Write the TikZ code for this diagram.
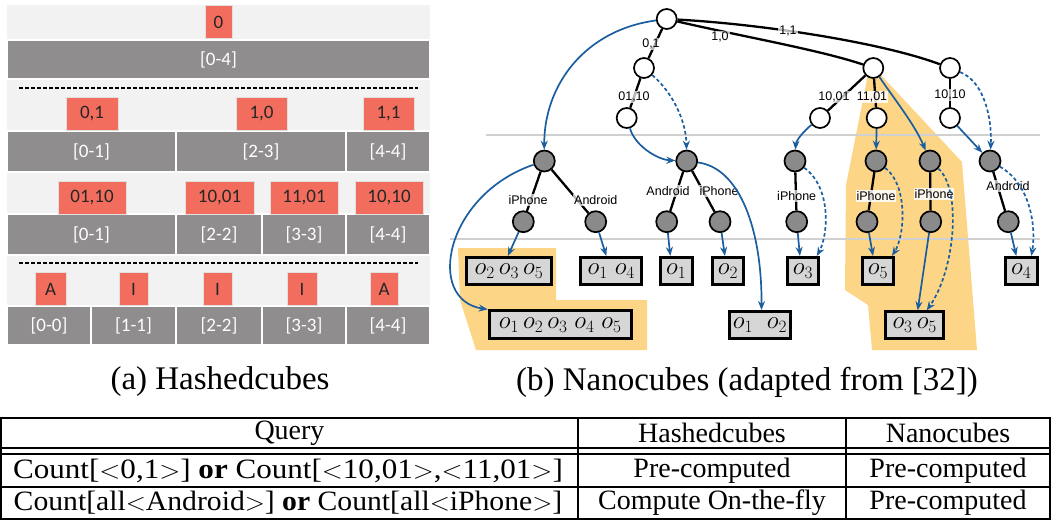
\documentclass[tikz,border=0pt]{standalone}
\usepackage{fontspec}
\usepackage{graphicx}
\setmainfont{Liberation Serif}
\newfontfamily\calib{Carlito}
\newfontfamily\hel{Liberation Sans}
\usetikzlibrary{arrows.meta}
\definecolor{bgl}{HTML}{F2F2F2}
\definecolor{band}{HTML}{8F8D8E}
\definecolor{redb}{HTML}{F26D5E}
\definecolor{yel}{HTML}{FDD587}
\definecolor{blu}{HTML}{1B5E9F}
\definecolor{boxg}{HTML}{D6D6D6}
\definecolor{gnode}{HTML}{8A8A8A}
\definecolor{hln}{HTML}{D0D0D0}
\begin{document}
\begin{tikzpicture}[x=1pt,y=-1pt,
  redbox/.style={fill=redb, draw=black!12, line width=0.8, inner sep=0, minimum height=33, font=\calib\fontsize{19}{19}\selectfont, text=black!85},
  bandlab/.style={text=white, font=\calib\fontsize{19}{19}\selectfont},
  bandseg/.style={fill=band, draw=white, line width=1.5},
  wn/.style={circle, draw, line width=1.7, fill=white, minimum size=20, inner sep=0},
  gn/.style={circle, draw, line width=1.7, fill=gnode, minimum size=21, inner sep=0},
  tedge/.style={line width=2.3, black},
  elab/.style={font=\hel\fontsize{12.5}{12.5}\selectfont, fill=white, fill opacity=0.7, text opacity=1, inner sep=1},
  barrow/.style={draw=blu, line width=1.7, -{Stealth[length=9pt,width=7pt]}},
  darrow/.style={barrow, dash pattern=on 3.5pt off 2.5pt},
  obox/.style={draw, line width=2.9, fill=boxg, inner sep=0, minimum height=27, font=\fontsize{24}{24}\selectfont},
  captext/.style={font=\fontsize{33}{33}\selectfont},
  tabtext/.style={font=\fontsize{28}{28}\selectfont, inner sep=0}
]
\useasboundingbox (0,0) rectangle (1052,528);

% ---------- (a) Hashedcubes ----------
\fill[bgl] (7,5) rectangle (430,345);
\draw[bandseg] (7,40) rectangle (430,79);
\draw[bandseg] (7,131) rectangle (176,172);
\draw[bandseg] (176,131) rectangle (346,172);
\draw[bandseg] (346,131) rectangle (430,172);
\draw[bandseg] (7,214) rectangle (176,255);
\draw[bandseg] (176,214) rectangle (262,255);
\draw[bandseg] (262,214) rectangle (346,255);
\draw[bandseg] (346,214) rectangle (430,255);
\draw[bandseg] (7,306) rectangle (91,345);
\draw[bandseg] (91,306) rectangle (176,345);
\draw[bandseg] (176,306) rectangle (262,345);
\draw[bandseg] (262,306) rectangle (346,345);
\draw[bandseg] (346,306) rectangle (430,345);
\draw[line width=1.2, dash pattern=on 4pt off 2pt] (19,88) -- (418,88);
\draw[line width=1.2, dash pattern=on 4pt off 2pt] (19,263) -- (418,263);

\node[bandlab] (l04) at (218.5,59.5) {[0-4]};
\node[bandlab] (l01) at (91.5,151.5) {[0-1]};
\node[bandlab] (l23) at (261,151.5) {[2-3]};
\node[bandlab] (l44) at (388,151.5) {[4-4]};
\node[bandlab] (m01) at (91.5,234.5) {[0-1]};
\node[bandlab] (m22) at (219,234.5) {[2-2]};
\node[bandlab] (m33) at (304,234.5) {[3-3]};
\node[bandlab] (m44) at (388,234.5) {[4-4]};
\node[bandlab] (n00) at (49,325.5) {[0-0]};
\node[bandlab] (n11) at (133.5,325.5) {[1-1]};
\node[bandlab] (n22) at (219,325.5) {[2-2]};
\node[bandlab] (n33) at (304,325.5) {[3-3]};
\node[bandlab] (n44) at (388,325.5) {[4-4]};

\node[redbox, minimum width=27] (r0) at (218.5,22) {0};
\node[redbox, minimum width=52] (r01) at (92,114) {0,1};
\node[redbox, minimum width=51] (r10) at (261.5,114) {1,0};
\node[redbox, minimum width=51] (r11) at (388.5,114) {1,1};
\node[redbox, minimum width=68] (s0110) at (92,198) {01,10};
\node[redbox, minimum width=69] (s1001) at (219.5,198) {10,01};
\node[redbox, minimum width=68] (s1101) at (304,198) {11,01};
\node[redbox, minimum width=68] (s1010) at (389,198) {10,10};
\node[redbox, minimum width=31] (ta1) at (50.5,289) {A};
\node[redbox, minimum width=29] (ti1) at (133.5,289) {I};
\node[redbox, minimum width=29] (ti2) at (217.5,289) {I};
\node[redbox, minimum width=30] (ti3) at (302,289) {I};
\node[redbox, minimum width=28] (ta2) at (384,289) {A};

% ---------- (b) Nanocubes ----------
\fill[yel] (458,248) -- (556,248) -- (556,300) -- (647,300) -- (647,350) -- (476,350) -- (460,300) -- cycle;
\fill[yel] (868,74) -- (880,74) -- (962,162) -- (977,350) -- (872,350) -- (868,305) -- (845,290) -- (846,185) -- cycle;
\draw[hln, line width=1.5] (486,135) -- (1040,135);
\draw[hln, line width=1.5] (450,239) -- (1040,239);

\node[wn] (R) at (666.7,19) {};
\node[wn] (A1) at (644,68) {};
\node[wn] (A2) at (626.7,118) {};
\node[wn] (B) at (873.3,68) {};
\node[wn] (C) at (950,68) {};
\node[wn] (B1) at (820,118) {};
\node[wn] (B2) at (876.7,118) {};
\node[wn] (C1) at (950,118) {};
\node[gn] (G1) at (544.3,161) {};
\node[gn] (G2) at (686.7,161) {};
\node[gn] (G3) at (795,161) {};
\node[gn] (G4) at (876,161) {};
\node[gn] (G5) at (930,161) {};
\node[gn] (G6) at (990,161) {};
\node[gn] (H1) at (523.3,221.7) {};
\node[gn] (H2) at (595.7,221.7) {};
\node[gn] (H3) at (666.7,221.7) {};
\node[gn] (H4) at (720,221.7) {};
\node[gn] (I3) at (796.7,221.7) {};
\node[gn] (I4) at (867,221.7) {};
\node[gn] (I5) at (930.7,221.7) {};
\node[gn] (I6) at (1008.3,221.7) {};

\node[obox, minimum width=85] (X1) at (508.9,270.9) {$o_2\,o_3\,o_5$};
\node[obox, minimum width=61] (X2) at (611.3,270.9) {$o_1\;o_4$};
\node[obox, minimum width=31.5] (X3) at (676.3,270.9) {$o_1$};
\node[obox, minimum width=31.5] (X4) at (727.9,270.9) {$o_2$};
\node[obox, minimum width=142, minimum height=28] (X5) at (560.2,324.8) {$o_1\,o_2\,o_3\;o_4\;o_5$};
\node[obox, minimum width=61] (X6) at (760,325) {$o_1\;\;o_2$};
\node[obox, minimum width=31.5] (X7) at (802.9,270.9) {$o_3$};
\node[obox, minimum width=31.5] (X8) at (878,270.9) {$o_5$};
\node[obox, minimum width=58] (X9) at (914.7,325.3) {$o_3\,o_5$};
\node[obox, minimum width=31.5] (X10) at (1021.3,270.9) {$o_4$};

% tree edges
\draw[tedge] (R) -- (A1);
\draw[tedge] (A1) -- (A2);
\draw[tedge] (R) .. controls (740,36) and (820,50) .. (B);
\draw[tedge] (R) .. controls (760,24) and (880,42) .. (C);
\draw[tedge] (B) -- (B1);
\draw[tedge] (B) -- (B2);
\draw[tedge] (C) -- (C1);
\draw[tedge] (G1) -- (H1);
\draw[tedge] (G1) -- (H2);
\draw[tedge] (G2) -- (H3);
\draw[tedge] (G2) -- (H4);
\draw[tedge] (G3) -- (I3);
\draw[tedge] (G4) -- (I4);
\draw[tedge] (G5) -- (I5);
\draw[tedge] (G6) -- (I6);

\node[elab] (e01) at (651,44) {0,1};
\node[elab] (e0110) at (634,97) {01,10};
\node[elab] (e10) at (720,37) {1,0};
\node[elab] (e11) at (788,31) {1,1};
\node[elab] (e1001) at (834,97) {10,01};
\node[elab, fill opacity=0.85] (e1101) at (872,97) {11,01};
\node[elab] (e1010) at (950,95) {10,10};
\node[elab] (eh1) at (528,200) {iPhone};
\node[elab] (eh2) at (595.7,200) {Android};
\node[elab] (eh3) at (668,191) {Android};
\node[elab] (eh4) at (719,191) {iPhone};
\node[elab] (ei3) at (796.7,196) {iPhone};
\node[elab, fill opacity=0.85] (ei4) at (876,196) {iPhone};
\node[elab, fill opacity=0.85] (ei5) at (934,194) {iPhone};
\node[elab] (ei6) at (1008,186) {Android};

% blue pointers
\draw[barrow] (R) .. controls (585,30) and (544,85) .. (G1);
\draw[darrow] (A1) .. controls (672,92) and (686,120) .. (G2);
\draw[barrow] (A2) .. controls (636,148) and (660,160) .. (G2);
\draw[barrow] (B1) .. controls (805,130) and (796,140) .. (G3);
\draw[barrow] (B2) -- (G4);
\draw[barrow] (B) .. controls (895,100) and (915,125) .. (G5);
\draw[barrow] (C1) -- (G6);
\draw[darrow] (C) .. controls (985,82) and (992,120) .. (G6);
\draw[barrow] (H1) -- ([xshift=-1pt]X1.north);
\draw[barrow] (G1) .. controls (445,195) and (425,300) .. (X5.north west);
\draw[barrow] (H2) -- ([xshift=-5pt]X2.north);
\draw[barrow] (H3) -- ([xshift=-6pt]X3.north);
\draw[barrow] (H4) -- ([xshift=-3pt]X4.north);
\draw[barrow] (G2) .. controls (740,168) and (762,230) .. ([xshift=1.5pt]X6.north);
\draw[barrow] (I3) -- ([xshift=-3pt]X7.north);
\draw[darrow] (G3) .. controls (832,188) and (828,235) .. ([xshift=14pt]X7.north);
\draw[barrow] (I4) -- ([xshift=-5pt]X8.north);
\draw[darrow] (G4) .. controls (908,185) and (905,235) .. ([xshift=14pt]X8.north);
\draw[barrow] (I5) -- ([xshift=3pt]X9.north);
\draw[darrow] (G5) .. controls (962,190) and (955,270) .. ([xshift=12pt]X9.north);
\draw[barrow] (I6) -- ([xshift=-5pt]X10.north);
\draw[darrow] (G6) .. controls (1032,185) and (1036,230) .. ([xshift=10pt]X10.north);

% captions
\node[captext] (capa) at (220,382) {(a) Hashedcubes};
\node[captext] (capb) at (747,382) {(b) Nanocubes (adapted from [32])};

% table
\draw[line width=1.3] (1,418) rectangle (1050,519);
\draw[line width=1.3] (1,448) -- (1050,448);
\draw[line width=1.3] (1,454) -- (1050,454);
\draw[line width=1.3] (1,487) -- (1050,487);
\draw[line width=1.3] (578,418) -- (578,519);
\draw[line width=1.3] (846,418) -- (846,519);
\node[tabtext] (tq) at (289.5,433) {Query};
\node[tabtext] (th) at (712,433) {Hashedcubes};
\node[tabtext] (tn) at (948,433) {Nanocubes};
\node[tabtext] (q1) at (288,471) {\scalebox{1.11}[1]{Count[$<$0,1$>$] \textbf{or} Count[$<$10,01$>$,$<$11,01$>$]}};
\node[tabtext] (h1) at (712,471) {Pre-computed};
\node[tabtext] (n1) at (948,471) {Pre-computed};
\node[tabtext] (q2) at (288,503) {\scalebox{1.06}[1]{Count[all$<$Android$>$] \textbf{or} Count[all$<$iPhone$>$]}};
\node[tabtext] (h2) at (712,503) {Compute On-the-fly};
\node[tabtext] (n2) at (948,503) {Pre-computed};
\end{tikzpicture}
\end{document}
